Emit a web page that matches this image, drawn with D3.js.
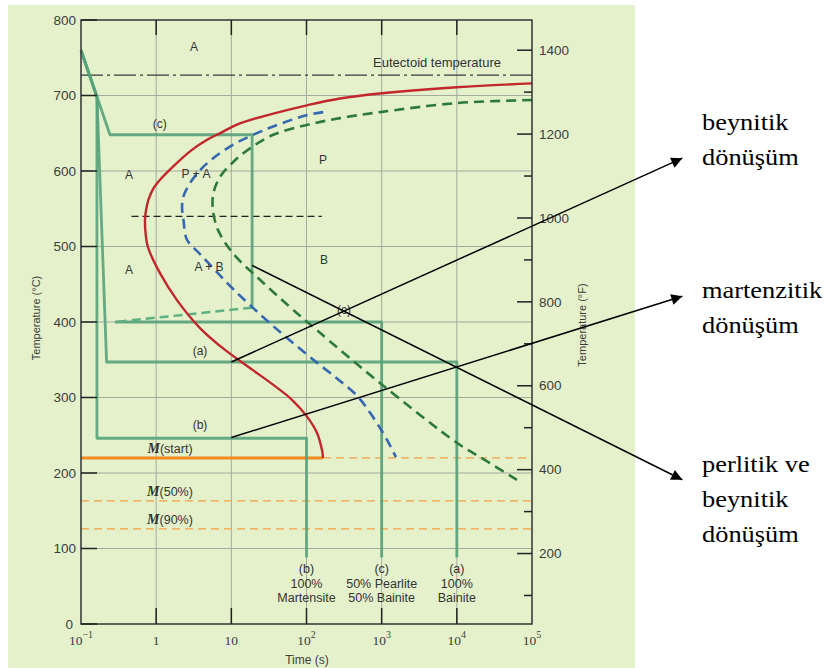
<!DOCTYPE html>
<html><head><meta charset="utf-8">
<script src="https://cdn.jsdelivr.net/npm/d3@7/dist/d3.min.js"></script>
<style>body{margin:0;background:#fff}svg{display:block}</style>
</head><body>
<svg id="chart" width="831" height="668"></svg>
<script>
// ---- data ----
const decadeTicks = [0.1, 1, 10, 100, 1000, 10000, 100000];
const decadeLabels = [["10","\u22121"],["1",""],["10",""],["10","2"],["10","3"],["10","4"],["10","5"]];
const celsiusTicks = [0,100,200,300,400,500,600,700,800];
const fahrenheitMajor = [200,400,600,800,1000,1200,1400];
const fahrenheitMinor = [100,300,500,700,900,1100,1300];
const gridTimes = [1,10,100,1000,10000];
const gridTemps = [100,200,300,400,500,600,700];

// transformation start curve (red), [time s, temperature C]
const startCurve = [[100000,716],[10000,711],[1010,703],[279,696],[101,687],[36.1,676],[13.0,663],[7.06,650],[4.70,641],[2.82,626],[1.69,606],[1.12,588],[0.908,576],[0.79,562],[0.733,548],[0.71,535],[0.721,519],[0.778,499],[1.12,465],[1.89,429],[3.83,392],[8.25,363],[17.7,339],[34.7,318],[64.1,297],[101,275],[138,253],[161,230],[166,220]];
// 50% curve (blue dashed)
const halfCurve = [[167,678],[101,674],[36.1,659],[19.6,648],[10.6,635],[5.75,617],[3.83,601],[2.82,584],[2.30,566],[2.21,552],[2.31,535],[2.57,509],[3.83,490],[6.44,466],[10.5,444],[18.8,420],[34.7,396],[70.3,370],[151,343],[279,322],[484,301],[721,278],[1042,253],[1331,234],[1549,221]];
// finish curve (green dashed)
const finishCurve = [[100000,694],[10000,690],[951,678],[279,670],[101,661],[36.1,648],[17.7,630],[10.6,612],[7.06,592],[5.75,570],[5.7,548],[6.64,522],[10.5,491],[24,456],[60,420],[138,389],[955,319],[10000,240],[20400,221],[63000,191]];

// cooling paths
const pathA = [[0.1,760],[0.163,698],[0.219,347],[10000,347],[10000,88]];
const pathB = [[0.1,760],[0.163,698],[0.163,246],[100,246],[100,88]];
const pathC = [[0.1,760],[0.243,648],[18.9,648],[18.9,419]];
const pathCdash = [[18.9,419],[0.283,400]];
const pathC2 = [[0.283,400],[1000,400],[1000,88]];

const eutectoidT = 727;
const noseLine = {t0:0.47, t1:160, T:540};
const mStart = 220, m50 = 163, m90 = 126, mStartEnd = 166;

const regionLabels = [
  {t:3.18, T:764, s:"A"},{t:1.12, T:662, s:"(c)"},{t:0.435, T:595, s:"A"},
  {t:3.39, T:596, s:"P + A"},{t:166, T:615, s:"P"},{t:0.435, T:469, s:"A"},
  {t:5.05, T:473, s:"A + B"},{t:171, T:482, s:"B"},{t:316, T:416, s:"(c)"},
  {t:3.83, T:362, s:"(a)"},{t:3.83, T:264, s:"(b)"}
];
const bottomLabels = [
  {t:100, lines:["(b)","100%","Martensite"]},
  {t:1000, lines:["(c)","50% Pearlite","50% Bainite"]},
  {t:10000, lines:["(a)","100%","Bainite"]}
];
const arrows = [
  {from:[10,347], to:[1e7,617]},
  {from:[10,247], to:[1e7,434]},
  {from:[18.9,475], to:[1e7,191]}
];
const sideNotes = [
  {y:130, lines:["beynitik","dönüşüm"]},
  {y:298, lines:["martenzitik","dönüşüm"]},
  {y:472, lines:["perlitik ve","beynitik","dönüşüm"]}
];

// ---- drawing ----
const svg = d3.select("#chart");
const x = d3.scaleLog().domain([0.1, 100000]).range([81, 532]);
const y = d3.scaleLinear().domain([0, 800]).range([624, 20]);
const f2c = F => (F - 32) * 5 / 9;

svg.append("rect").attr("x",8).attr("y",5).attr("width",627).attr("height",663).attr("fill","#e4f1cb");

const defs = svg.append("defs");
defs.append("marker").attr("id","arr").attr("viewBox","0 0 10 10").attr("refX",10).attr("refY",5)
  .attr("markerWidth",16).attr("markerHeight",11).attr("markerUnits","userSpaceOnUse")
  .attr("orient","auto").append("path").attr("d","M0,0 L10,5 L0,10 Z").attr("fill","#000");

// grid
const g = svg.append("g");
g.selectAll(".gv").data(gridTimes).join("line").attr("x1",d=>x(d)).attr("x2",d=>x(d))
  .attr("y1",y(800)).attr("y2",y(0)).attr("stroke","#a4aa9c").attr("stroke-width",1);
g.selectAll(".gh").data(gridTemps).join("line").attr("y1",d=>y(d)).attr("y2",d=>y(d))
  .attr("x1",x(0.1)).attr("x2",x(1e5)).attr("stroke","#a4aa9c").attr("stroke-width",1);

const line = d3.line().x(d=>x(d[0])).y(d=>y(d[1]));
const smooth = d3.line().x(d=>x(d[0])).y(d=>y(d[1])).curve(d3.curveCatmullRom.alpha(0.5));

// martensite lines
svg.append("line").attr("x1",x(0.1)).attr("x2",x(mStartEnd)).attr("y1",y(mStart)).attr("y2",y(mStart))
  .attr("stroke","#f08a1e").attr("stroke-width",3);
[[mStartEnd,1e5,mStart],[0.1,1e5,m50],[0.1,1e5,m90]].forEach(([a,b,T])=>{
  svg.append("line").attr("x1",x(a)).attr("x2",x(b)).attr("y1",y(T)).attr("y2",y(T))
    .attr("stroke","#f2a044").attr("stroke-width",1.3).attr("stroke-dasharray","8,5");
});

// eutectoid dash-dot
svg.append("line").attr("x1",x(0.1)).attr("x2",x(1e5)).attr("y1",y(eutectoidT)).attr("y2",y(eutectoidT))
  .attr("stroke","#3a3a3a").attr("stroke-width",1.3).attr("stroke-dasharray","22,4,3,4");

// nose dashed
svg.append("line").attr("x1",x(noseLine.t0)).attr("x2",x(noseLine.t1)).attr("y1",y(noseLine.T)).attr("y2",y(noseLine.T))
  .attr("stroke","#222").attr("stroke-width",1.2).attr("stroke-dasharray","7,4");

// cooling paths
const pathColor = "#57a27a";
[pathA, pathB, pathC, pathC2].forEach(p=>{
  svg.append("path").attr("d",line(p)).attr("fill","none").attr("stroke",pathColor)
    .attr("stroke-width",2.8).attr("stroke-opacity",0.9).attr("stroke-linejoin","round");
});
svg.append("path").attr("d",line(pathCdash)).attr("fill","none").attr("stroke","#5fb083")
  .attr("stroke-width",2.5).attr("stroke-dasharray","9,5");

// TTT curves
svg.append("path").attr("d",smooth(finishCurve)).attr("fill","none").attr("stroke","#2e7a3a")
  .attr("stroke-width",2.6).attr("stroke-dasharray","10,6");
svg.append("path").attr("d",smooth(halfCurve)).attr("fill","none").attr("stroke","#3568b0")
  .attr("stroke-width",2.6).attr("stroke-dasharray","10,6");
svg.append("path").attr("d",smooth(startCurve)).attr("fill","none").attr("stroke","#c1272d")
  .attr("stroke-width",2.4);

// frame
svg.append("rect").attr("x",x(0.1)).attr("y",y(800)).attr("width",x(1e5)-x(0.1)).attr("height",y(0)-y(800))
  .attr("fill","none").attr("stroke","#333").attr("stroke-width",1.5);

// ticks
const tk = svg.append("g").attr("stroke","#222").attr("stroke-width",1.5);
celsiusTicks.forEach(T=>tk.append("line").attr("x1",x(0.1)).attr("x2",x(0.1)+16).attr("y1",y(T)).attr("y2",y(T)));
decadeTicks.slice(1,6).forEach(t=>{
  tk.append("line").attr("x1",x(t)).attr("x2",x(t)).attr("y1",y(800)).attr("y2",y(800)+15);
  tk.append("line").attr("x1",x(t)).attr("x2",x(t)).attr("y1",y(0)).attr("y2",y(0)-16);
});
fahrenheitMajor.forEach(F=>tk.append("line").attr("x1",x(1e5)).attr("x2",x(1e5)-15).attr("y1",y(f2c(F))).attr("y2",y(f2c(F))));
fahrenheitMinor.forEach(F=>tk.append("line").attr("x1",x(1e5)).attr("x2",x(1e5)-8).attr("y1",y(f2c(F))).attr("y2",y(f2c(F))));

const font = "'Liberation Sans', Arial, sans-serif";
const lab = svg.append("g").attr("font-family",font).attr("fill","#3d3d3d");
celsiusTicks.forEach(T=>lab.append("text").attr("x",T===0?73:76).attr("y",y(T)).attr("dy","0.35em")
  .attr("text-anchor","end").attr("font-size",13.5).text(T));
fahrenheitMajor.forEach(F=>lab.append("text").attr("x",539).attr("y",y(f2c(F))).attr("dy","0.35em")
  .attr("font-size",13.5).text(F));
decadeTicks.forEach((t,i)=>{
  const [b,e] = decadeLabels[i];
  const tx = lab.append("text").attr("x",x(t)).attr("y",645).attr("text-anchor","middle").attr("font-size",13.5).attr("font-family","'Liberation Serif', serif");
  tx.append("tspan").text(b);
  if(e) tx.append("tspan").attr("dy",-7).attr("font-size",10).text(e);
});
lab.append("text").attr("x",307).attr("y",664).attr("text-anchor","middle").attr("font-size",12).text("Time (s)");
lab.append("text").attr("transform","translate(40,318) rotate(-90)").attr("text-anchor","middle").attr("font-size",11).text("Temperature (\u00B0C)");
lab.append("text").attr("transform","translate(586,325) rotate(-90)").attr("text-anchor","middle").attr("font-size",11).text("Temperature (\u00B0F)");

// annotations
const ann = svg.append("g").attr("font-family",font).attr("fill","#333").attr("font-size",12);
regionLabels.forEach(d=>ann.append("text").attr("x",x(d.t)).attr("y",y(d.T)).attr("dy","0.35em").attr("text-anchor","middle").text(d.s));
ann.append("text").attr("x",437).attr("y",y(eutectoidT)-8).attr("text-anchor","middle").attr("font-size",13).text("Eutectoid temperature");
bottomLabels.forEach(d=>d.lines.forEach((s,i)=>ann.append("text").attr("x",x(d.t)).attr("y",573+i*14.5).attr("text-anchor","middle").attr("font-size",12.5).text(s)));
[["start",mStart],["50%",m50],["90%",m90]].forEach(([s,T])=>{
  const t = ann.append("text").attr("x",170).attr("y",y(T)-5).attr("text-anchor","middle").attr("font-size",12.5);
  t.append("tspan").attr("font-family","'Liberation Serif', serif").attr("font-style","italic").attr("font-weight","bold").attr("font-size",14).text("M");
  t.append("tspan").text("("+s+")");
});

// arrows
arrows.forEach(a=>svg.append("line").attr("x1",x(a.from[0])).attr("y1",y(a.from[1]))
  .attr("x2",x(a.to[0])).attr("y2",y(a.to[1])).attr("stroke","#000").attr("stroke-width",1.5).attr("marker-end","url(#arr)"));

// side notes
const sn = svg.append("g").attr("font-family","'Liberation Serif','Times New Roman',serif").attr("font-size",24).attr("fill","#000");
sideNotes.forEach(d=>d.lines.forEach((s,i)=>sn.append("text").attr("transform",`translate(702,${d.y+i*35}) scale(1.1,1)`).text(s)));
</script>
</body></html>
